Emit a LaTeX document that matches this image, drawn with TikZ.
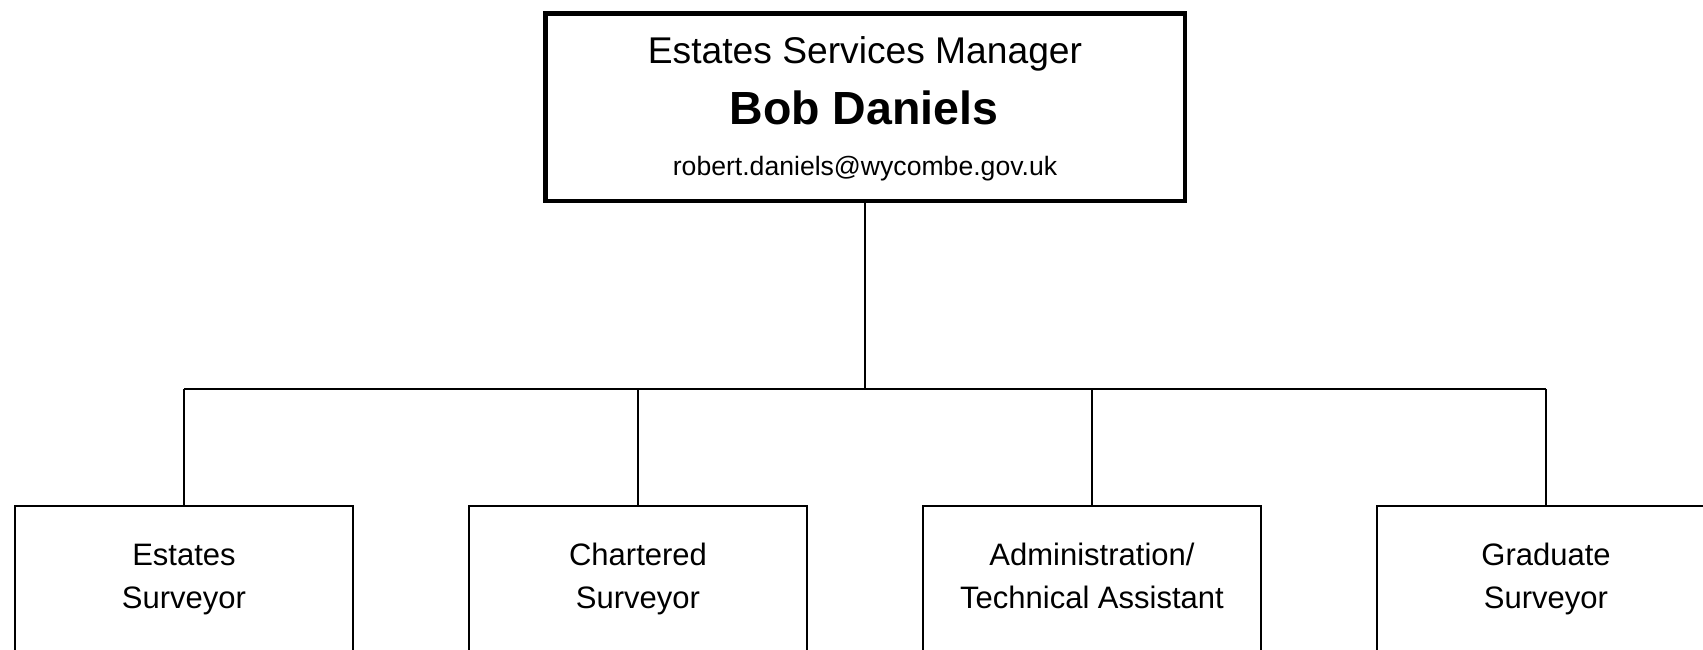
\documentclass[tikz,border=0pt]{standalone}
\usepackage{fontspec}
\setmainfont{Liberation Sans}
\begin{document}
\begin{tikzpicture}[x=1pt,y=-1pt,
  topbox/.style={draw=black,line width=4.5pt,fill=white,inner sep=0pt,minimum width=639.5pt,minimum height=187.5pt},
  subbox/.style={draw=black,line width=1.8pt,fill=white,inner sep=0pt,minimum width=338pt,minimum height=200pt,anchor=north},
  subtxt/.style={anchor=base,inner sep=0pt,font=\fontsize{31}{36}\selectfont},
  link/.style={draw=black,line width=1.8pt}]
\useasboundingbox (0,0) rectangle (1703,649);
\fill[white] (0,0) rectangle (1703,649);
\clip (0,0) rectangle (1703,649);
% top box
\node[topbox] (top) at (865,107) {};
\node[anchor=base,inner sep=0pt,font=\fontsize{37.2}{40}\selectfont] (title) at (865,63) {Estates Services Manager};
\node[anchor=base,inner sep=0pt,font=\fontsize{46.5}{50}\selectfont\bfseries] (name) at (864,124) {Bob Daniels};
\node[anchor=base,inner sep=0pt,font=\fontsize{26.6}{30}\selectfont] (mail) at (865,175) {robert.daniels@wycombe.gov.uk};
% subordinate boxes
\node[subbox] (b1) at (184,505) {};
\node[subbox] (b2) at (638,505) {};
\node[subbox] (b3) at (1092,505) {};
\node[subbox] (b4) at (1546,505) {};
\node[subtxt] (t1a) at (184,565) {Estates};
\node[subtxt] (t1b) at (184,608) {Surveyor};
\node[subtxt] (t2a) at (638,565) {Chartered};
\node[subtxt] (t2b) at (638,608) {Surveyor};
\node[subtxt] (t3a) at (1092,565) {Administration/};
\node[subtxt] (t3b) at (1092,608) {Technical Assistant};
\node[subtxt] (t4a) at (1546,565) {Graduate};
\node[subtxt] (t4b) at (1546,608) {Surveyor};
% connectors
\coordinate (bus) at (864,389);
\draw[link] (top.south) -- (top.south |- bus);
\draw[link] (b1.north |- bus) -- (b4.north |- bus);
\foreach \b in {b1,b2,b3,b4} \draw[link] (\b.north) -- (\b.north |- bus);
\end{tikzpicture}
\end{document}
